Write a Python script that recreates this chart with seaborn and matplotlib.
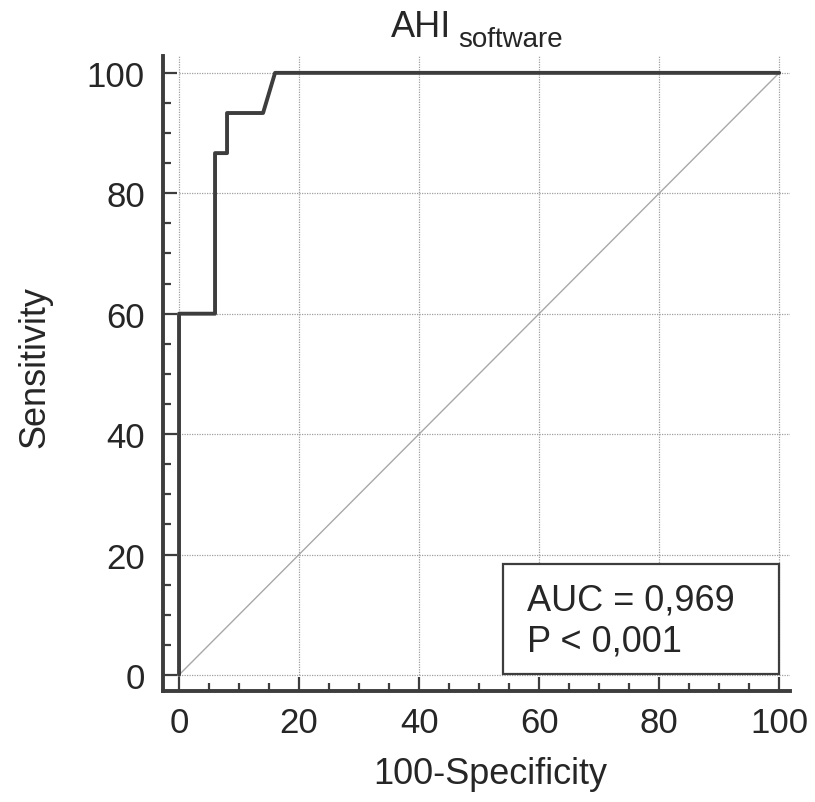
import matplotlib
matplotlib.use("Agg")
import matplotlib.pyplot as plt
import seaborn as sns
import pandas as pd
import numpy as np
from matplotlib.ticker import MultipleLocator

# Data
fpr = [0, 0, 6, 6, 8, 8, 14, 16, 100]
tpr = [0, 60, 60, 86.67, 86.67, 93.33, 93.33, 100, 100]
ticks = [0, 20, 40, 60, 80, 100]
title_main = "AHI"
title_sub = "software"
auc_text = "AUC = 0,969"
p_text = "P < 0,001"

sns.set_theme(style="white")
plt.rcParams['font.family'] = ['Liberation Sans', 'DejaVu Sans']

dark = '#3d3d3d'
txt = '#262626'
W, H = 815, 803
fig = plt.figure(figsize=(W/100, H/100), dpi=100)
ax = fig.add_axes([163/W, 1-692/H, (790-163)/W, (692-57)/H])

ax.set_xlim(-2.67, 101.8)
ax.set_ylim(-2.67, 102.8)

# grid
for t in ticks:
    ax.hlines(t, 0, 101.8, colors='#a0a0a0', linestyles=(0, (1, 1)), linewidth=0.9, zorder=1)
    ax.vlines(t, 0, 102.8, colors='#a0a0a0', linestyles=(0, (1, 1)), linewidth=0.9, zorder=1)

# diagonal
ax.plot([0, 100], [0, 100], color='#a8a8a8', linewidth=1.0, zorder=2)

df = pd.DataFrame({'fpr': fpr, 'tpr': tpr})
sns.lineplot(data=df, x='fpr', y='tpr', sort=False, estimator=None, ax=ax,
             color=dark, linewidth=2.8, zorder=3)

for s in ['top', 'right']:
    ax.spines[s].set_visible(False)
for s in ['left', 'bottom']:
    ax.spines[s].set_color(dark)
    ax.spines[s].set_linewidth(2.8)

ax.xaxis.set_minor_locator(MultipleLocator(5))
ax.yaxis.set_minor_locator(MultipleLocator(5))
ax.set_xticks(ticks)
ax.set_yticks(ticks)
ax.set_xticklabels([str(t) for t in ticks])
ax.set_yticklabels([str(t) for t in ticks])
ax.tick_params(which='major', direction='in', length=10, width=1.6, color=dark,
               labelsize=25, labelcolor=txt, bottom=True, left=True)
ax.tick_params(which='minor', direction='in', length=5.5, width=1.6, color=dark,
               bottom=True, left=True)
ax.tick_params(axis='x', pad=11)
ax.tick_params(axis='y', pad=13)
ax.set_xlabel("")
ax.set_ylabel("")

fig.text(490/W, 1-775/H, "100-Specificity", fontsize=26, color=txt, ha='center', va='center')
fig.text(35/W, 1-367/H, "Sensitivity", fontsize=26, color=txt, ha='center', va='center',
         rotation=90)
fig.text(391/W, 1-37/H, title_main, fontsize=26, color=txt, ha='left', va='baseline')
fig.text(458/W, 1-47/H, title_sub, fontsize=20, color=txt, ha='left', va='baseline')

# AUC box
ax.add_patch(plt.Rectangle((54, 0.2), 46, 18.3, fill=True, facecolor='white',
                           edgecolor=dark, linewidth=1.6, zorder=4))
ax.text(58, 12.4, auc_text, fontsize=26, color=txt, va='center', ha='left', zorder=5)
ax.text(58, 5.7, p_text, fontsize=26, color=txt, va='center', ha='left', zorder=5)

fig.savefig("out.png", dpi=100, facecolor='white')
